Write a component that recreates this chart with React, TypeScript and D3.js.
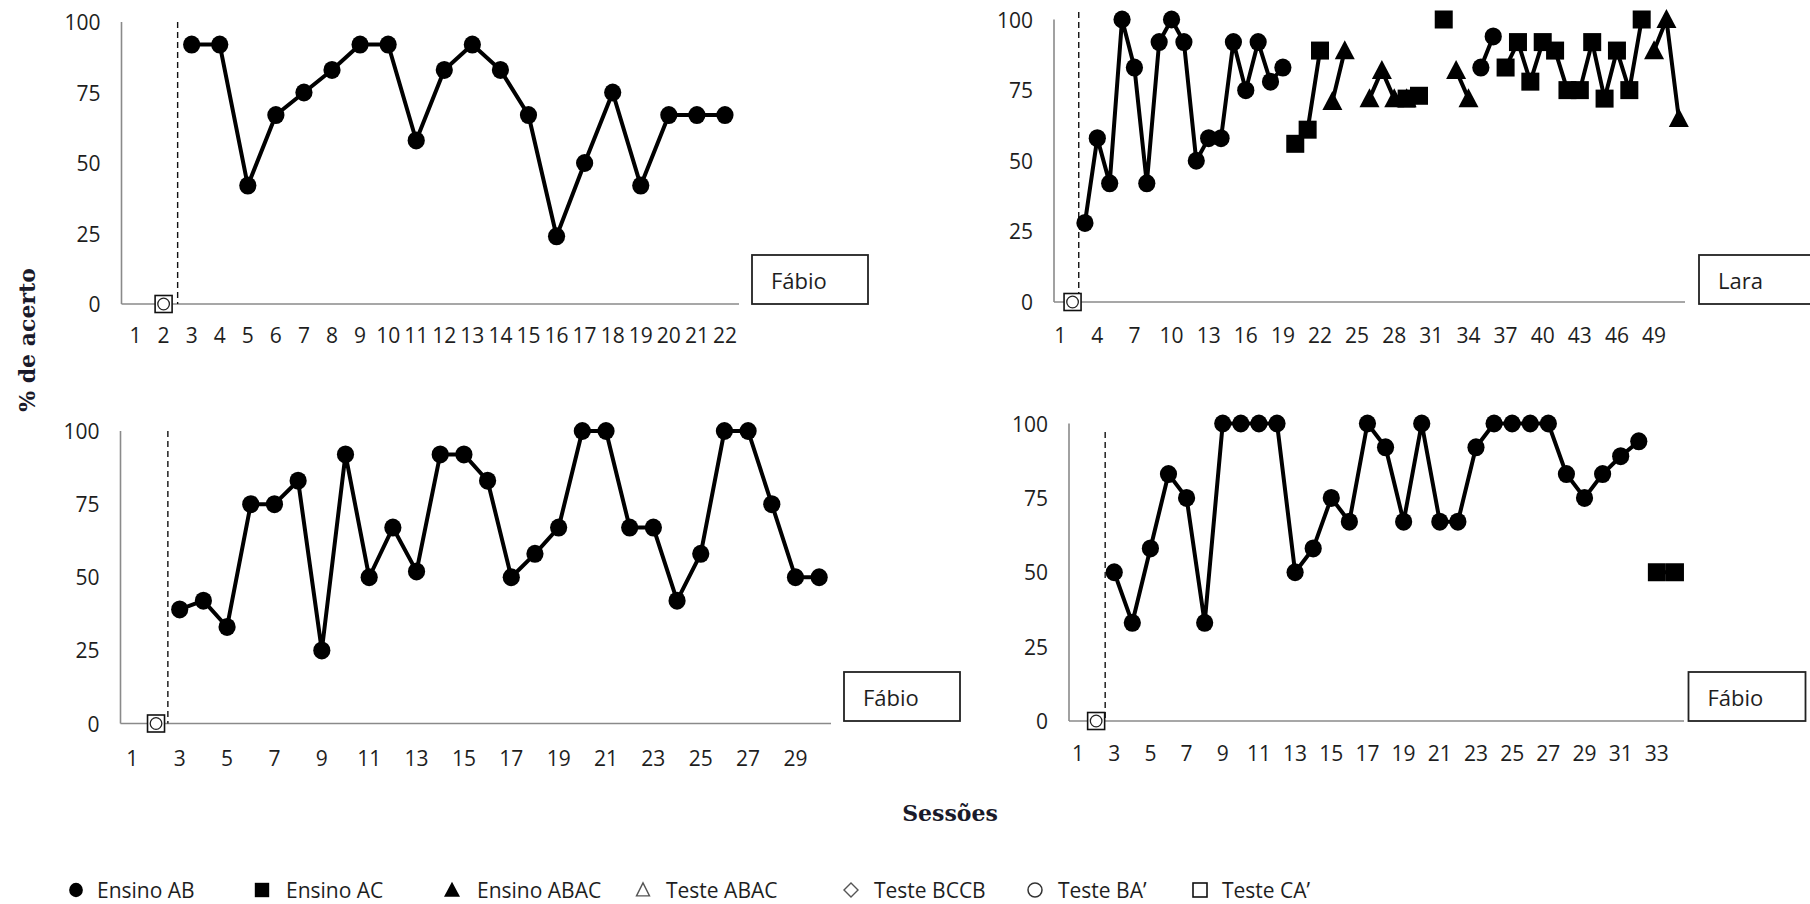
import React from 'react';
import * as d3 from 'd3';

const N = null;

// ---------------- DATA ----------------
// Y axis ticks (% de acerto)
const Y_TICKS = [0, 25, 50, 75, 100];

// Panel 1 — Fábio (top-left), sessions 1..22
const P1_SESSION_COUNT = 22;
const P1_TICK_EVERY = 1;
const P1_ENSINO_AB = [N, N, 92, 92, 42, 67, 75, 83, 92, 92, 58, 83, 92, 83, 67, 24, 50, 75, 42, 67, 67, 67];
const P1_TESTE_BA = [N, 0];
const P1_TESTE_CA = [N, 0];

// Panel 2 — Lara (top-right), sessions 1..51
const P2_SESSION_COUNT = 51;
const P2_TICK_EVERY = 3;
const P2_ENSINO_AB = [
  N, N, 28, 58, 42, 100, 83, 42, 92, 100, 92, 50, 58, 58, 92, 75, 92, 78, 83,
  N, N, N, N, N, N, N, N, N, N, N, N, N, N, N,
  83, 94,
];
const P2_ENSINO_AC = [
  N, N, N, N, N, N, N, N, N, N, N, N, N, N, N, N, N, N, N,
  56, 61, 89,
  N, N, N, N, N, N,
  72, 73, N, 100,
  N, N, N, N,
  83, 92, 78, 92, 89, 75, 75, 92, 72, 89, 75, 100,
];
const P2_ENSINO_ABAC = [
  N, N, N, N, N, N, N, N, N, N, N, N, N, N, N, N, N, N, N, N, N, N,
  71, 89, N, 72, 82, 72, 72, N, N, N, 82, 72,
  N, N, N, N, N, N, N, N, N, N, N, N, N, N,
  89, 100, 65,
];
const P2_TESTE_BA = [N, 0];
const P2_TESTE_CA = [N, 0];

// Panel 3 — Fábio (bottom-left), sessions 1..30
const P3_SESSION_COUNT = 30;
const P3_TICK_EVERY = 2;
const P3_ENSINO_AB = [N, N, 39, 42, 33, 75, 75, 83, 25, 92, 50, 67, 52, 92, 92, 83, 50, 58, 67, 100, 100, 67, 67, 42, 58, 100, 100, 75, 50, 50];
const P3_TESTE_BA = [N, 0];
const P3_TESTE_CA = [N, 0];

// Panel 4 — Fábio (bottom-right), sessions 1..34
const P4_SESSION_COUNT = 34;
const P4_TICK_EVERY = 2;
const P4_ENSINO_AB = [N, N, 50, 33, 58, 83, 75, 33, 100, 100, 100, 100, 50, 58, 75, 67, 100, 92, 67, 100, 67, 67, 92, 100, 100, 100, 100, 83, 75, 83, 89, 94];
const P4_ENSINO_AC = [N, N, N, N, N, N, N, N, N, N, N, N, N, N, N, N, N, N, N, N, N, N, N, N, N, N, N, N, N, N, N, N, 50, 50];
const P4_TESTE_BA = [N, 0];
const P4_TESTE_CA = [N, 0];

// Legend
const LEGEND_LABELS = ['Ensino AB', 'Ensino AC', 'Ensino ABAC', 'Teste ABAC', 'Teste BCCB', 'Teste BA’', 'Teste CA’'];
const LEGEND_SHAPES = ['circle', 'square', 'triangle', 'triangleOpen', 'diamondOpen', 'circleOpen', 'squareOpen'];

// ---------------- LAYOUT / STYLE ----------------
const W = 1810;
const H = 904;
const SANS = "'Open Sans', 'DejaVu Sans', sans-serif";
const SERIF = "'DejaVu Serif', serif";
const TEXT = '#1e1e1e';
const AXIS = '#8a8a8a';

type Vals = (number | null)[];
type Series = { values: Vals; shape: string; line: boolean };

const PANELS = [
  {
    name: 'Fábio', n: P1_SESSION_COUNT, every: P1_TICK_EVERY,
    series: [
      { values: P1_ENSINO_AB, shape: 'circle', line: true },
      { values: P1_TESTE_CA, shape: 'squareOpen', line: false },
      { values: P1_TESTE_BA, shape: 'circleOpenSmall', line: false },
    ] as Series[],
    L: { x0: 121.5, x1: 739, y0: 304, y100: 22, dashTop: 22, tickY: 335, box: [752, 255, 116, 49] },
  },
  {
    name: 'Lara', n: P2_SESSION_COUNT, every: P2_TICK_EVERY,
    series: [
      { values: P2_ENSINO_AB, shape: 'circle', line: true },
      { values: P2_ENSINO_AC, shape: 'square', line: true },
      { values: P2_ENSINO_ABAC, shape: 'triangle', line: true },
      { values: P2_TESTE_CA, shape: 'squareOpen', line: false },
      { values: P2_TESTE_BA, shape: 'circleOpenSmall', line: false },
    ] as Series[],
    L: { x0: 1054, x1: 1685, y0: 302, y100: 19.5, dashTop: 12, tickY: 335, box: [1699, 255, 118, 49] },
  },
  {
    name: 'Fábio', n: P3_SESSION_COUNT, every: P3_TICK_EVERY,
    series: [
      { values: P3_ENSINO_AB, shape: 'circle', line: true },
      { values: P3_TESTE_CA, shape: 'squareOpen', line: false },
      { values: P3_TESTE_BA, shape: 'circleOpenSmall', line: false },
    ] as Series[],
    L: { x0: 120.5, x1: 831, y0: 723.5, y100: 431, dashTop: 431, tickY: 758, box: [844, 672, 116, 49] },
  },
  {
    name: 'Fábio', n: P4_SESSION_COUNT, every: P4_TICK_EVERY,
    series: [
      { values: P4_ENSINO_AB, shape: 'circle', line: true },
      { values: P4_ENSINO_AC, shape: 'square', line: true },
      { values: P4_TESTE_CA, shape: 'squareOpen', line: false },
      { values: P4_TESTE_BA, shape: 'circleOpenSmall', line: false },
    ] as Series[],
    L: { x0: 1069, x1: 1684, y0: 721, y100: 423.5, dashTop: 432, tickY: 753, box: [1688.5, 672, 117, 49] },
  },
];

const LEGEND_LAYOUT = { y: 890, marker: [76, 262, 452, 643, 851, 1035, 1200], text: [97, 286, 477, 666, 874, 1058, 1222] };

function Marker({ shape, cx, cy, legend = false }: { shape: string; cx: number; cy: number; legend?: boolean }) {
  const k = legend ? 0.8 : 1;
  switch (shape) {
    case 'circle':
      return <ellipse cx={cx} cy={cy} rx={8.6 * k} ry={9 * k} fill="#000" />;
    case 'square': {
      const s = 18 * k;
      return <rect x={cx - s / 2} y={cy - s / 2} width={s} height={s} fill="#000" />;
    }
    case 'triangle': {
      const w = 20 * k, h = 19 * k;
      return <path d={`M${cx},${cy - h * 0.55}L${cx + w / 2},${cy + h * 0.45}L${cx - w / 2},${cy + h * 0.45}Z`} fill="#000" />;
    }
    case 'triangleOpen': {
      const w = 13, h = 13;
      return <path d={`M${cx},${cy - h * 0.55}L${cx + w / 2},${cy + h * 0.45}L${cx - w / 2},${cy + h * 0.45}Z`} fill="#fff" stroke="#555" strokeWidth={1.4} />;
    }
    case 'diamondOpen': {
      const r = 7;
      return <path d={`M${cx},${cy - r}L${cx + r},${cy}L${cx},${cy + r}L${cx - r},${cy}Z`} fill="#fff" stroke="#555" strokeWidth={1.4} />;
    }
    case 'circleOpen':
      return <circle cx={cx} cy={cy} r={7} fill="#fff" stroke="#333" strokeWidth={1.5} />;
    case 'circleOpenSmall':
      return <circle cx={cx} cy={cy} r={5.8} fill="none" stroke="#222" strokeWidth={1.3} />;
    case 'squareOpen': {
      const s = legend ? 14 : 17;
      return <rect x={cx - s / 2} y={cy - s / 2} width={s} height={s} fill="#fff" stroke="#111" strokeWidth={1.6} />;
    }
    default:
      return null;
  }
}

function Panel({ p }: { p: (typeof PANELS)[number] }) {
  const { L } = p;
  const sessions = d3.range(1, p.n + 1);
  const x = d3.scalePoint<number>().domain(sessions).range([L.x0, L.x1]).padding(0.5);
  const y = d3.scaleLinear().domain([0, 100]).range([L.y0, L.y100]);
  const ticks = sessions.filter((s) => (s - 1) % p.every === 0);
  const dashX = (x(3) as number) - x.step() / 2;
  const line = d3
    .line<{ s: number; v: number | null }>()
    .defined((d) => d.v != null)
    .x((d) => x(d.s) as number)
    .y((d) => y(d.v as number));
  const [bx, by, bw, bh] = L.box;
  return (
    <g>
      <line x1={L.x0} x2={L.x0} y1={L.y100} y2={L.y0} stroke={AXIS} strokeWidth={1.6} />
      <line x1={L.x0} x2={L.x1} y1={L.y0} y2={L.y0} stroke={AXIS} strokeWidth={1.6} />
      {Y_TICKS.map((t) => (
        <text key={t} x={L.x0 - 21} y={y(t)} textAnchor="end" dominantBaseline="central" fontFamily={SANS} fontSize={21} fill={TEXT}>
          {t}
        </text>
      ))}
      {ticks.map((s) => (
        <text key={s} x={x(s) as number} y={L.tickY} textAnchor="middle" dominantBaseline="central" fontFamily={SANS} fontSize={21} fill={TEXT}>
          {s}
        </text>
      ))}
      <line x1={dashX} x2={dashX} y1={L.dashTop} y2={L.y0} stroke="#111" strokeWidth={1.4} strokeDasharray="6,4" />
      {p.series.map((se, i) => {
        const pts = se.values.map((v, j) => ({ s: j + 1, v }));
        return (
          <g key={i}>
            {se.line && <path d={line(pts) || ''} fill="none" stroke="#000" strokeWidth={4} strokeLinejoin="round" />}
            {pts
              .filter((d) => d.v != null)
              .map((d) => (
                <Marker key={d.s} shape={se.shape} cx={x(d.s) as number} cy={y(d.v as number)} />
              ))}
          </g>
        );
      })}
      <rect x={bx} y={by} width={bw} height={bh} fill="#fff" stroke="#222" strokeWidth={1.8} />
      <text x={bx + 19} y={by + bh / 2} dominantBaseline="central" fontFamily={SANS} fontSize={22} fill={TEXT}>
        {p.name}
      </text>
    </g>
  );
}

export default function App() {
  return (
    <svg width={W} height={H} style={{ position: 'absolute', left: 0, top: 0, background: '#fff' }}>
      <rect width={W} height={H} fill="#fff" />
      {PANELS.map((p, i) => (
        <Panel key={i} p={p} />
      ))}
      <text x={27} y={340} transform="rotate(-90 27 340)" textAnchor="middle" dominantBaseline="central" fontFamily={SERIF} fontWeight="bold" fontSize={22} fill="#1a1a2a">
        % de acerto
      </text>
      <text x={950} y={813} textAnchor="middle" dominantBaseline="central" fontFamily={SERIF} fontWeight="bold" fontSize={22} fill="#1a1a2a">
        Sessões
      </text>
      {LEGEND_LABELS.map((lab, i) => (
        <g key={lab}>
          <Marker shape={LEGEND_SHAPES[i]} cx={LEGEND_LAYOUT.marker[i]} cy={LEGEND_LAYOUT.y} legend />
          <text x={LEGEND_LAYOUT.text[i]} y={LEGEND_LAYOUT.y} dominantBaseline="central" fontFamily={SANS} fontSize={21} fill={TEXT}>
            {lab}
          </text>
        </g>
      ))}
    </svg>
  );
}
